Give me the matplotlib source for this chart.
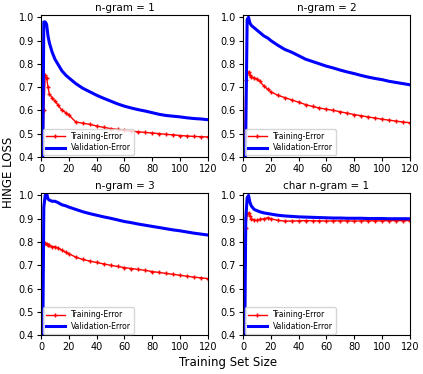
import matplotlib
matplotlib.use('Agg')
import matplotlib.pyplot as plt

sizes = [1, 2, 3, 4, 5, 6, 8, 10, 12, 15, 18, 20, 25, 30, 35, 40, 45, 50, 55, 60,
         65, 70, 75, 80, 85, 90, 95, 100, 105, 110, 115, 120]

titles = ['n-gram = 1', 'n-gram = 2', 'n-gram = 3', 'char n-gram = 1']

train_1 = [0.30, 0.60, 0.75, 0.74, 0.70, 0.67, 0.655, 0.64, 0.625, 0.60, 0.59, 0.58,
           0.55, 0.545, 0.54, 0.533, 0.527, 0.522, 0.518, 0.514, 0.511, 0.508, 0.505,
           0.503, 0.50, 0.497, 0.495, 0.492, 0.49, 0.488, 0.487, 0.486]
valid_1 = [0.20, 0.98, 0.98, 0.97, 0.92, 0.89, 0.85, 0.82, 0.80, 0.77, 0.75, 0.74,
           0.715, 0.695, 0.68, 0.665, 0.652, 0.64, 0.628, 0.618, 0.61, 0.603, 0.597,
           0.59, 0.583, 0.578, 0.575, 0.572, 0.568, 0.565, 0.563, 0.56]

train_2 = [0.30, 0.73, 0.76, 0.765, 0.75, 0.745, 0.74, 0.735, 0.725, 0.705, 0.69, 0.68,
           0.665, 0.655, 0.645, 0.635, 0.625, 0.617, 0.61, 0.605, 0.60, 0.594, 0.588,
           0.582, 0.577, 0.572, 0.567, 0.562, 0.558, 0.554, 0.55, 0.547]
valid_2 = [0.20, 0.50, 0.99, 1.0, 0.975, 0.965, 0.955, 0.945, 0.935, 0.92, 0.91, 0.90,
           0.88, 0.862, 0.85, 0.835, 0.82, 0.81, 0.80, 0.79, 0.782, 0.773, 0.765,
           0.758, 0.75, 0.743, 0.737, 0.732, 0.725, 0.72, 0.715, 0.71]

train_3 = [0.30, 0.79, 0.795, 0.79, 0.785, 0.785, 0.78, 0.78, 0.775, 0.765, 0.755, 0.75,
           0.735, 0.725, 0.718, 0.712, 0.706, 0.70, 0.695, 0.69, 0.686, 0.682, 0.678,
           0.673, 0.669, 0.665, 0.661, 0.657, 0.653, 0.649, 0.646, 0.643]
valid_3 = [0.20, 0.95, 1.0, 1.01, 0.985, 0.98, 0.975, 0.975, 0.97, 0.96, 0.955, 0.95,
           0.94, 0.93, 0.922, 0.915, 0.908, 0.902, 0.895, 0.888, 0.883, 0.877, 0.872,
           0.867, 0.862, 0.857, 0.852, 0.848, 0.843, 0.838, 0.834, 0.83]

train_c = [0.30, 0.86, 0.92, 0.925, 0.91, 0.90, 0.895, 0.893, 0.897, 0.90, 0.905, 0.90,
           0.893, 0.89, 0.89, 0.891, 0.892, 0.891, 0.891, 0.89, 0.891, 0.891, 0.891,
           0.89, 0.891, 0.891, 0.891, 0.891, 0.892, 0.892, 0.892, 0.892]
valid_c = [0.20, 0.90, 0.99, 1.0, 0.97, 0.955, 0.94, 0.935, 0.93, 0.925, 0.922, 0.92,
           0.915, 0.912, 0.91, 0.908, 0.907, 0.906, 0.905, 0.904, 0.903, 0.903, 0.902,
           0.902, 0.902, 0.901, 0.901, 0.901, 0.90, 0.90, 0.90, 0.90]

train_all = [train_1, train_2, train_3, train_c]
valid_all = [valid_1, valid_2, valid_3, valid_c]


def main():
    fig, axes = plt.subplots(2, 2, figsize=(4.23, 3.74), dpi=100)
    fig.subplots_adjust(left=0.097, right=0.969, bottom=0.104, top=0.96,
                        wspace=0.21, hspace=0.255)
    for ax, title, tr, va in zip(axes.flat, titles, train_all, valid_all):
        ax.plot(sizes, tr, color='red', marker='+', markersize=3.5, linewidth=1,
                label='Training-Error')
        ax.plot(sizes, va, color='blue', linewidth=2.2, label='Validation-Error')
        ax.set_title(title, fontsize=7.5, pad=3)
        ax.set_xlim(0, 120)
        ax.set_ylim(0.4, 1.01)
        ax.set_xticks([0, 20, 40, 60, 80, 100, 120])
        ax.set_yticks([0.4, 0.5, 0.6, 0.7, 0.8, 0.9, 1.0])
        ax.tick_params(labelsize=7, length=3, pad=2)
        ax.legend(loc='lower left', fontsize=5.5, borderaxespad=0.2,
                  handlelength=2.5, labelspacing=0.3)
    fig.text(0.021, 0.54, 'HINGE LOSS', rotation=90, va='center', ha='center',
             fontsize=8.5)
    fig.text(0.54, 0.03, 'Training Set Size', ha='center', va='center',
             fontsize=8.5)
    fig.savefig('out.png')


if __name__ == "__main__":
    main()
